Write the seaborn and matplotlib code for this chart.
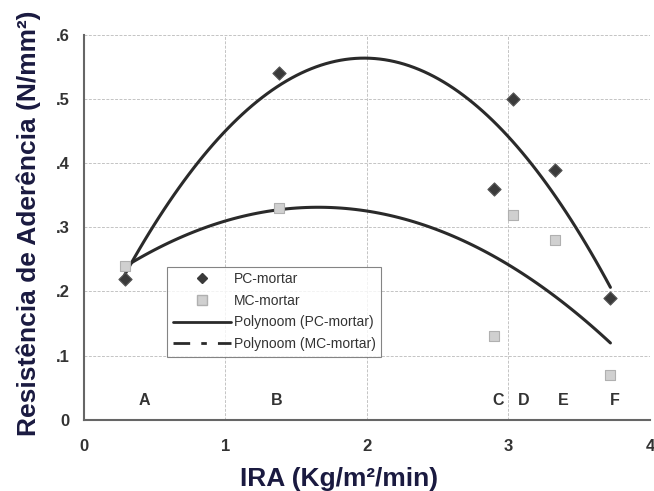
import numpy as np
import pandas as pd
import matplotlib
matplotlib.use("Agg")
import matplotlib.pyplot as plt
import seaborn as sns
from matplotlib.lines import Line2D

# IRA (kg/m2/min) per brick type A..F
ira = [0.29, 1.38, 2.90, 3.03, 3.33, 3.72]
pc_mortar = [0.22, 0.54, 0.36, 0.50, 0.39, 0.19]
mc_mortar = [0.24, 0.33, 0.13, 0.32, 0.28, 0.07]
brick_labels = ["A", "B", "C", "D", "E", "F"]
label_x = [0.43, 1.36, 2.93, 3.11, 3.39, 3.75]

df = pd.DataFrame({"ira": ira, "pc": pc_mortar, "mc": mc_mortar})

sns.set_style("white")
plt.rcParams["font.family"] = ["Liberation Sans", "DejaVu Sans"]

fig = plt.figure(figsize=(6.54, 4.91), dpi=100)
ax = fig.add_axes([0.128, 0.145, 0.866, 0.784])

# trend lines (2nd order polynomial)
sns.regplot(data=df, x="ira", y="pc", order=2, ci=None, scatter=False, truncate=True,
            line_kws={"color": "#2a2a2a", "lw": 2.2}, ax=ax, label="_nolegend_")
sns.regplot(data=df, x="ira", y="mc", order=2, ci=None, scatter=False, truncate=True,
            line_kws={"color": "#2a2a2a", "lw": 2.2}, ax=ax, label="_nolegend_")

sns.scatterplot(data=df, x="ira", y="pc", marker="D", s=45, color="#3a3a3a",
                edgecolor="#555555", linewidth=0.8, ax=ax, label="_nolegend_", zorder=3)
sns.scatterplot(data=df, x="ira", y="mc", marker="s", s=60, color="#d0d0d0",
                edgecolor="#b0b0b0", linewidth=0.8, ax=ax, label="_nolegend_", zorder=3)

for lab, lx in zip(brick_labels, label_x):
    ax.text(lx, 0.03, lab, ha="center", va="center", fontsize=11.5, fontweight="bold",
            color="#333333")

ax.set_xlim(0, 4)
ax.set_ylim(0, 0.6)
ax.set_xticks([0, 1, 2, 3, 4])
ax.set_yticks([0, 0.1, 0.2, 0.3, 0.4, 0.5, 0.6])
ax.set_yticklabels(["0", ".1", ".2", ".3", ".4", ".5", ".6"])
ax.tick_params(axis="both", labelsize=12, colors="#333333", length=4, width=1)
for t in ax.get_xticklabels() + ax.get_yticklabels():
    t.set_fontweight("bold")
ax.tick_params(axis="x", pad=10)
ax.tick_params(axis="y", pad=6)

ax.grid(True, color="#c4c4c4", linestyle=(0, (3, 1.5)), linewidth=0.7)
ax.spines["top"].set_visible(False)
ax.spines["right"].set_visible(False)
ax.spines["left"].set_color("#666666")
ax.spines["bottom"].set_color("#666666")
ax.spines["left"].set_linewidth(1.5)
ax.spines["bottom"].set_linewidth(1.5)

ax.set_xlabel("IRA (Kg/m²/min)", fontsize=19, fontweight="bold", color="#1a1a40",
              labelpad=9)
ax.xaxis.label.set_x(0.45)
ax.set_ylabel("Resistência de Aderência (N/mm²)", fontsize=19, fontweight="bold",
              color="#1a1a40", labelpad=11)
ax.yaxis.label.set_y(0.51)

# legend built from proxy handles
handles = [
    Line2D([], [], marker="D", ls="none", color="#3a3a3a", markersize=5.5),
    Line2D([], [], marker="s", ls="none", color="#d0d0d0", markeredgecolor="#b0b0b0", markersize=6.5),
    Line2D([], [], color="#2a2a2a", lw=2),
    Line2D([], [], color="#2a2a2a", lw=2, ls=(0, (6, 4, 2, 4))),
]
labels = ["PC-mortar", "MC-mortar", "Polynoom (PC-mortar)", "Polynoom (MC-mortar)"]
leg = ax.legend(handles, labels, loc="upper left", bbox_to_anchor=(0.147, 0.398),
                fontsize=10, frameon=True, fancybox=False, edgecolor="#666666",
                borderpad=0.4, labelspacing=0.55, handlelength=4.2, handletextpad=0.2,
                borderaxespad=0)
leg.get_frame().set_linewidth(0.8)
for t in leg.get_texts():
    t.set_color("#333333")

fig.savefig("out.png", dpi=100)
